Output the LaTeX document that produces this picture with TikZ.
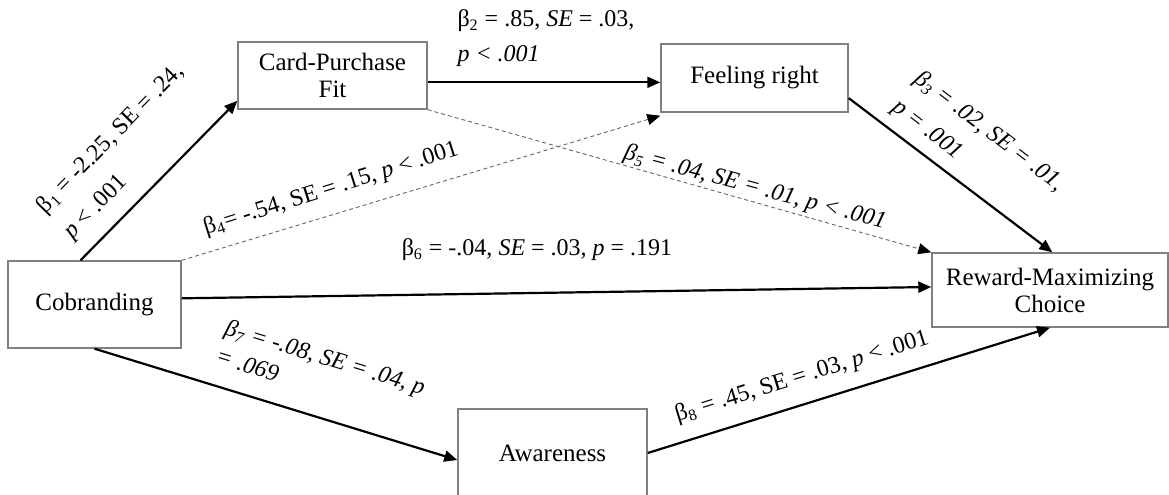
\documentclass[tikz,border=0pt]{standalone}
\usepackage{fontspec}
\setmainfont{Liberation Serif}
\usetikzlibrary{arrows.meta,calc}
\begin{document}
\begin{tikzpicture}[x=0.5pt,y=-0.5pt,
  box/.style={draw=black!50,line width=0.7pt,fill=white,inner sep=0pt,align=center,font=\fontsize{12.5}{13.5}\selectfont},
  arr/.style={line width=1.1pt,-{Triangle[length=6.5pt,width=5.5pt]}},
  darr/.style={draw=black!60,line width=0.45pt,dash pattern=on 2pt off 1.5pt,-{Triangle[length=6.5pt,width=5.5pt,color=black]}},
  lab/.style={font=\fontsize{12}{17.5}\selectfont,inner sep=0pt,align=left}]
\useasboundingbox (0,0) rectangle (1169,494);
% nodes
\node[box,minimum width=94.5pt,minimum height=33.5pt] (card) at (332.5,75.5) {Card-Purchase\\Fit};
\node[box,minimum width=93.5pt,minimum height=34pt] (feel) at (754.5,78) {Feeling right};
\node[box,minimum width=118pt,minimum height=37pt] (rew) at (1050,290) {Reward-Maximizing\\Choice};
\node[box,minimum width=86.5pt,minimum height=43.5pt] (cob) at (94.5,304.5) {Cobranding};
\node[box,minimum width=94.5pt,minimum height=44pt] (aw) at (552.5,453) {Awareness};
% connectors
\draw[arr] ($(cob.north west)!0.42!(cob.north east)$) -- ($(card.north west)!0.87!(card.south west)$);
\coordinate (b2s) at ($(card.north east)!0.6!(card.south east)$);
\draw[arr] (b2s) -- (b2s -| feel.west);
\draw[arr] ($(feel.north east)!0.79!(feel.south east)$) -- ($(rew.north west)!0.51!(rew.north east)$);
\draw[darr] (cob.north east) -- ($(feel.south west)+(0,3)$);
\draw[darr] (card.south east) -- (rew.north west);
\draw[arr] ($(cob.north east)!0.43!(cob.south east)$) -- ($(rew.north west)!0.46!(rew.south west)$);
\draw[arr] (cob.south) -- ($(aw.west)+(0,7)$);
\draw[arr] (aw.east) -- (rew.south);
% labels
\node[lab,rotate=45.7,font=\fontsize{12}{18.5}\selectfont] (l1) at (124,152) {β\textsubscript{1} = -2.25, SE = .24,\\ \textit{p} < .001};
\node[lab] (l2) at (546,38) {β\textsubscript{2} = .85, \textit{SE} = .03,\\ \textit{p < .001}};
\node[lab,rotate=-37.4,font=\fontsize{12}{18}\selectfont] (l3) at (978,146) {\textit{β\textsubscript{3} = .02, SE = .01,}\\ \textit{p = .001}};
\node[lab,rotate=17.5] (l4) at (331,189) {β\textsubscript{4}= -.54, SE = .15, \textit{p} < .001};
\node[lab,rotate=-15] (l5) at (755,188) {\textit{β\textsubscript{5} = .04, SE = .01, p < .001}};
\node[lab] (l6) at (537,250) {β\textsubscript{6} = -.04, \textit{SE} = .03, \textit{p} = .191};
\node[lab,rotate=-17,font=\fontsize{12}{15}\selectfont] (l7) at (321,371) {\textit{β\textsubscript{7} = -.08, SE = .04, p}\\ \textit{= .069}};
\node[lab,rotate=17.2] (l8) at (802,377) {β\textsubscript{8} = .45, SE = .03, \textit{p} < .001};
\end{tikzpicture}
\end{document}
